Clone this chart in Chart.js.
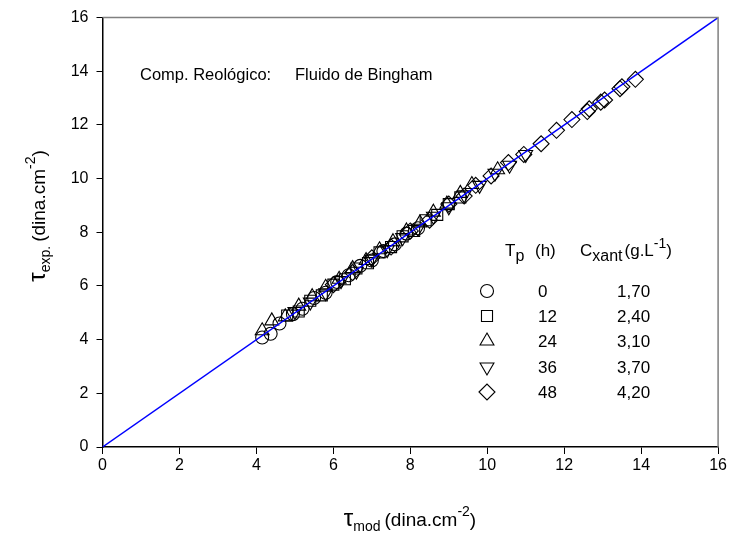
<!DOCTYPE html>
<html><head><meta charset="utf-8">
<script src="https://cdn.jsdelivr.net/npm/chart.js@4.4.1/dist/chart.umd.min.js"></script>
<style>html,body{margin:0;padding:0;background:#fff}</style>
</head><body>
<canvas id="c" width="729" height="538" style="width:729px;height:538px;display:block"></canvas>
<script>
// ---- data ----
const circX = [4.15, 4.37, 4.6, 4.95, 5.2, 5.5, 5.8, 6.1, 6.4, 6.7, 7.0, 7.3, 7.6, 7.9, 8.2];
const circY = [4.08, 4.22, 4.6, 4.95, 5.15, 5.55, 5.75, 6.15, 6.4, 6.75, 6.95, 7.3, 7.55, 7.95, 8.15];
const squX = [4.8, 5.1, 5.4, 5.7, 6.0, 6.3, 6.6, 6.9, 7.2, 7.5, 7.8, 8.1, 8.4, 8.7, 9.0, 9.3];
const squY = [4.9, 5.05, 5.45, 5.65, 6.05, 6.25, 6.65, 6.85, 7.25, 7.45, 7.85, 8.05, 8.45, 8.65, 9.05, 9.3];
const triX = [4.15, 4.4, 4.75, 5.1, 5.45, 5.8, 6.15, 6.5, 6.85, 7.2, 7.55, 7.9, 8.25, 8.6, 8.95, 9.3, 9.6, 10.27];
const triY = [4.33, 4.7, 4.85, 5.25, 5.6, 5.95, 6.25, 6.65, 6.95, 7.35, 7.65, 8.05, 8.35, 8.75, 9.05, 9.45, 9.78, 10.33];
const dtriX = [5.0, 5.4, 5.8, 6.2, 6.6, 7.0, 7.4, 7.8, 8.2, 8.6, 9.0, 9.4, 9.8, 10.2, 10.58, 11.0];
const dtriY = [5.05, 5.4, 5.75, 6.2, 6.55, 7.0, 7.35, 7.8, 8.15, 8.6, 8.95, 9.4, 9.75, 10.2, 10.5, 10.9];
const diaX = [6.0, 6.5, 7.0, 7.5, 8.0, 8.5, 9.0, 9.4, 9.7, 10.1, 10.55, 10.95, 11.4, 11.8, 12.2, 12.6, 12.65, 12.95, 13.05, 13.45, 13.5, 13.85];
const diaY = [6.05, 6.5, 7.05, 7.45, 8.05, 8.45, 9.05, 9.35, 9.75, 10.1, 10.6, 10.9, 11.3, 11.8, 12.2, 12.5, 12.6, 12.85, 12.93, 13.35, 13.42, 13.7];
const fitX = [0, 16];
const fitY = [0, 16];
const axisMin = 0, axisMax = 16, axisStep = 2;
const legendTp = ['0', '12', '24', '36', '48'];
const legendC = ['1,70', '2,40', '3,10', '3,70', '4,20'];
const annotLabel = 'Comp. Reológico:';
const annotValue = 'Fluido de Bingham';

const FONT = '"Liberation Sans", Arial, Helvetica, sans-serif';
const zip = (xs, ys) => xs.map((x, i) => ({x, y: ys[i]}));

const markers = [
  {pointStyle: 'circle', radius: 6.5, rotation: 0},
  {pointStyle: 'rect', radius: 7.8, rotation: 0},
  {pointStyle: 'triangle', radius: 8, rotation: 0},
  {pointStyle: 'triangle', radius: 8, rotation: 180},
  {pointStyle: 'rectRot', radius: 8, rotation: 0}
];
const seriesX = [circX, squX, triX, dtriX, diaX];
const seriesY = [circY, squY, triY, dtriY, diaY];

const datasets = [{
  type: 'line', data: zip(fitX, fitY), borderColor: '#0000ff', borderWidth: 1.5,
  pointRadius: 0, fill: false, tension: 0
}];
markers.forEach((m, i) => {
  datasets.push({
    type: 'scatter', data: zip(seriesX[i], seriesY[i]),
    pointStyle: m.pointStyle, pointRadius: m.radius, pointRotation: m.rotation,
    borderColor: '#000', backgroundColor: 'rgba(0,0,0,0)', pointBorderWidth: 1.1, borderWidth: 1.1
  });
});

function drawRich(ctx, parts, x, y, align) {
  let total = 0;
  parts.forEach(p => { ctx.font = p.size + 'px ' + (p.font || FONT); p.w = ctx.measureText(p.t).width; total += p.w + (p.gap || 0); });
  let cx = align === 'center' ? x - total / 2 : x;
  ctx.textAlign = 'left'; ctx.textBaseline = 'alphabetic';
  parts.forEach(p => {
    ctx.font = p.size + 'px ' + (p.font || FONT);
    ctx.fillText(p.t, cx, y + (p.dy || 0));
    cx += p.w + (p.gap || 0);
  });
}

const extras = {
  id: 'extras',
  afterDraw(chart) {
    const ctx = chart.ctx, a = chart.chartArea;
    ctx.save();
    // top/right frame
    ctx.strokeStyle = '#808080'; ctx.lineWidth = 1.5;
    ctx.beginPath();
    ctx.moveTo(a.left, a.top); ctx.lineTo(a.right, a.top); ctx.lineTo(a.right, a.bottom);
    ctx.stroke();
    ctx.fillStyle = '#000';
    // x title
    drawRich(ctx, [
      {t: 'τ', size: 24}, {t: 'mod', size: 14, dy: 5, gap: 4},
      {t: '(dina.cm', size: 19}, {t: '-2', size: 14, dy: -10}, {t: ')', size: 19}
    ], 410, 526, 'center');
    // y title
    ctx.save();
    ctx.translate(45, 216); ctx.rotate(-Math.PI / 2);
    drawRich(ctx, [
      {t: 'τ', size: 24}, {t: 'exp.', size: 14, dy: 5, gap: 4},
      {t: '(dina.cm', size: 19}, {t: '-2', size: 14, dy: -10}, {t: ')', size: 19}
    ], 0, 0, 'center');
    ctx.restore();
    // annotation
    ctx.font = '16.5px ' + FONT; ctx.textAlign = 'left'; ctx.textBaseline = 'alphabetic';
    ctx.fillText(annotLabel, 140, 80);
    ctx.fillText(annotValue, 295, 80);
    // legend header
    drawRich(ctx, [{t: 'T', size: 17}, {t: 'p', size: 16, dy: 5}], 505, 256, 'left');
    drawRich(ctx, [{t: '(h)', size: 17}], 535, 256, 'left');
    drawRich(ctx, [{t: 'C', size: 17}, {t: 'xant', size: 16, dy: 5, gap: 2}, {t: '(g.L', size: 17},
      {t: '-1', size: 14, dy: -8}, {t: ')', size: 17}], 580, 256, 'left');
    const rowsY = [291, 316, 341, 367, 392];
    markers.forEach((m, i) => {
      ctx.strokeStyle = '#000'; ctx.fillStyle = 'rgba(0,0,0,0)'; ctx.lineWidth = 1.1;
      Chart.helpers.drawPoint(ctx, {pointStyle: m.pointStyle, radius: m.radius, rotation: m.rotation, borderWidth: 1.1}, 487, rowsY[i]);
      ctx.fillStyle = '#000';
      ctx.font = '17px ' + FONT; ctx.textAlign = 'left';
      ctx.fillText(legendTp[i], 538, rowsY[i] + 6);
      ctx.fillText(legendC[i], 617, rowsY[i] + 6);
    });
    ctx.restore();
  }
};

new Chart(document.getElementById('c'), {
  data: {datasets},
  options: {
    responsive: false, animation: false, devicePixelRatio: 1,
    layout: {padding: {left: 0, right: 10, top: 15, bottom: 0}},
    plugins: {legend: {display: false}, tooltip: {enabled: false}},
    scales: {
      x: {
        type: 'linear', min: axisMin, max: axisMax,
        ticks: {stepSize: axisStep, color: '#000', font: {family: FONT, size: 16}, padding: 2, maxRotation: 0},
        grid: {drawOnChartArea: false, drawTicks: true, tickLength: 7, tickColor: '#000', tickWidth: 1},
        border: {color: '#000', width: 1.5},
        afterFit: s => { s.height = 91; }
      },
      y: {
        type: 'linear', min: axisMin, max: axisMax,
        ticks: {stepSize: axisStep, color: '#000', font: {family: FONT, size: 16}, padding: 8},
        grid: {drawOnChartArea: false, drawTicks: true, tickLength: 6, tickColor: '#000', tickWidth: 1},
        border: {color: '#000', width: 1.5},
        afterFit: s => { s.width = 102.5; }
      }
    }
  },
  plugins: [extras]
});
</script>
</body></html>
